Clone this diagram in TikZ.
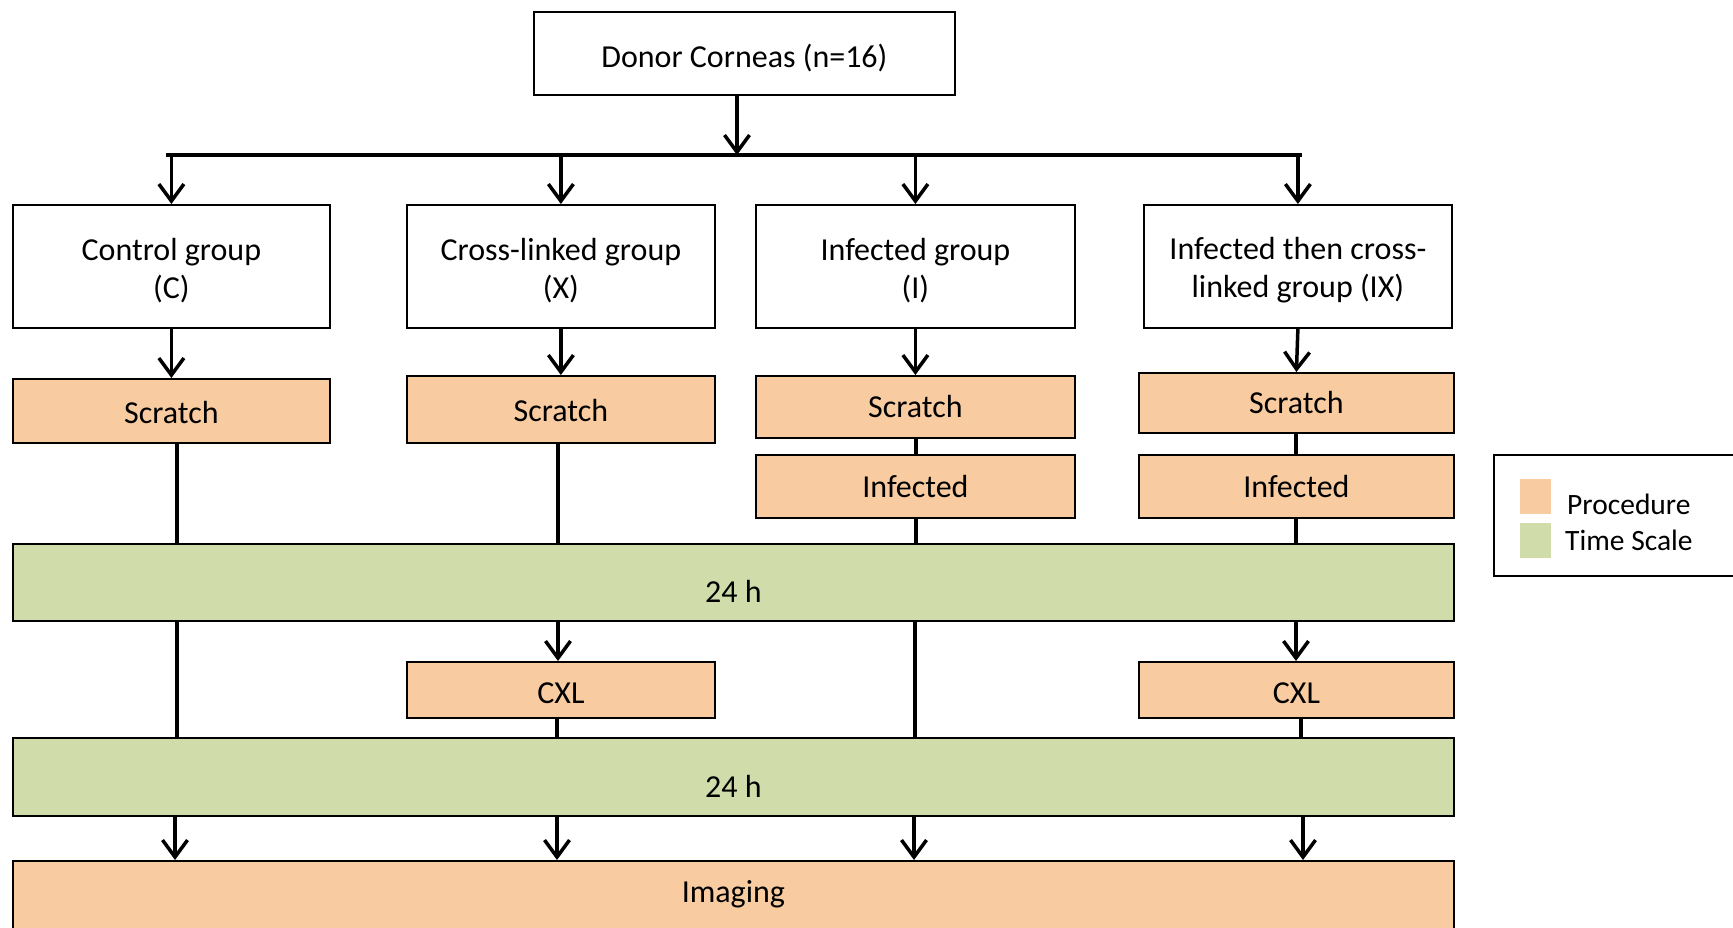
\documentclass[tikz,border=0pt]{standalone}
\usepackage{fontspec}
\setmainfont{Carlito}
\usetikzlibrary{arrows.meta}
\definecolor{proc}{HTML}{F8CBA0}
\definecolor{tscale}{HTML}{D0DDAB}
\begin{document}
\begin{tikzpicture}[x=1pt,y=-1pt,
  font=\fontsize{32}{38}\selectfont,
  box/.style={draw=black, line width=1.8pt, anchor=north west, inner sep=0pt, align=center, fill=white},
  pbox/.style={box, fill=proc},
  tbox/.style={box, fill=tscale},
  lbl/.style={inner sep=0pt},
  tl/.style 2 args={label={[inner sep=0pt, align=center, yshift=#1]center:#2}},
  conn/.style={line width=3.5pt},
  arr/.style={line width=3.5pt, -{Straight Barb[length=17pt,width=25pt,line width=3.5pt]}}
]
\useasboundingbox (0,0) rectangle (1733,927);
\clip (0,0) rectangle (1733,927);

% top
\node[box, minimum width=421pt, minimum height=83pt, tl={-5pt}{Donor Corneas (n=16)}] (top) at (533,11) {};

% groups
\node[box, minimum width=317pt, minimum height=123pt, tl={-4pt}{Control group\\(C)}] (grpC) at (12,204) {};
\node[box, minimum width=308pt, minimum height=123pt, tl={-4pt}{Cross-linked group\\(X)}] (grpX) at (406,204) {};
\node[box, minimum width=319pt, minimum height=123pt, tl={-4pt}{Infected group\\(I)}] (grpI) at (755,204) {};
\node[box, minimum width=308pt, minimum height=123pt, tl={-4pt}{Infected then cross-\\linked group (IX)}] (grpIX) at (1143,204) {};

% scratch
\node[pbox, minimum width=317pt, minimum height=64pt, tl={-2pt}{Scratch}] (scrC) at (12,378) {};
\node[pbox, minimum width=308pt, minimum height=67pt, tl={-1pt}{Scratch}] (scrX) at (406,375) {};
\node[pbox, minimum width=319pt, minimum height=62pt, tl={0pt}{Scratch}] (scrI) at (755,375) {};
\node[pbox, minimum width=315pt, minimum height=60pt, tl={0pt}{Scratch}] (scrIX) at (1138,372) {};

% infected
\node[pbox, minimum width=319pt, minimum height=63pt, tl={0pt}{Infected}] (infI) at (755,454) {};
\node[pbox, minimum width=315pt, minimum height=63pt, tl={0pt}{Infected}] (infIX) at (1138,454) {};

% bars
\node[tbox, minimum width=1441pt, minimum height=77pt, tl={-9pt}{24 h}] (bar1) at (12,543) {};
\node[pbox, minimum width=308pt, minimum height=56pt, tl={-3pt}{CXL}] (cxlX) at (406,661) {};
\node[pbox, minimum width=315pt, minimum height=56pt, tl={-3pt}{CXL}] (cxlIX) at (1138,661) {};
\node[tbox, minimum width=1441pt, minimum height=78pt, tl={-9pt}{24 h}] (bar2) at (12,737) {};
\node[pbox, minimum width=1441pt, minimum height=100pt] (img) at (12,860) {};
\node[lbl] (imgt) at ([yshift=-34pt]img.north) {Imaging};

% legend
\node[box, minimum width=260pt, minimum height=121pt] (leg) at (1493,454) {};
\node[fill=proc, draw=none, minimum width=31pt, minimum height=35pt, inner sep=0pt, anchor=north west] (swP) at (1520,479) {};
\node[fill=tscale, draw=none, minimum width=31pt, minimum height=35pt, inner sep=0pt, anchor=north west] (swT) at (1520,523) {};
\node[anchor=west, inner sep=0pt, font=\fontsize{29.5}{36}\selectfont] (lP) at (1567,504) {Procedure};
\node[anchor=west, inner sep=0pt, font=\fontsize{29.5}{36}\selectfont] (lT) at (1565,540) {Time Scale};

% column coordinates
\coordinate (split) at (737,155);
\coordinate (hl) at (166,155);
\coordinate (hr) at (1302,155);
\coordinate (cC) at (177,0);
\coordinate (cCi) at (175,0);
\coordinate (cX) at (558,0);
\coordinate (cXb) at (557,0);
\coordinate (cI) at (916,0);
\coordinate (cIb) at (915,0);
\coordinate (cIi) at (914,0);
\coordinate (cIX) at (1296,0);
\coordinate (cIXb) at (1301,0);
\coordinate (cIXi) at (1303,0);

% top connectors
\draw[arr] (top.south -| split) -- (split);
\draw[conn] (hl) -- (hr);
\draw[arr] (grpC.north |- split) -- (grpC.north);
\draw[arr] (grpX.north |- split) -- (grpX.north);
\draw[arr] (grpI.north |- split) -- (grpI.north);
\draw[arr] (grpIX.north |- split) -- (grpIX.north);

% group to scratch
\draw[arr] (grpC.south) -- (scrC.north);
\draw[arr] (grpX.south) -- (scrX.north);
\draw[arr] (grpI.south) -- (scrI.north);
\draw[arr] (grpIX.south) -- (scrIX.north);

% control column
\draw[conn] (scrC.south -| cC) -- (bar1.north -| cC);
\draw[conn] (bar1.south -| cC) -- (bar2.north -| cC);
\draw[arr] (bar2.south -| cCi) -- (img.north -| cCi);

% cross-linked column
\draw[conn] (scrX.south -| cX) -- (bar1.north -| cX);
\draw[arr] (bar1.south -| cX) -- (cxlX.north -| cX);
\draw[conn] (cxlX.south -| cXb) -- (bar2.north -| cXb);
\draw[arr] (bar2.south -| cXb) -- (img.north -| cXb);

% infected column
\draw[conn] (scrI.south -| cI) -- (infI.north -| cI);
\draw[conn] (infI.south -| cI) -- (bar1.north -| cI);
\draw[conn] (bar1.south -| cIb) -- (bar2.north -| cIb);
\draw[arr] (bar2.south -| cIi) -- (img.north -| cIi);

% infected then cross-linked column
\draw[conn] (scrIX.south -| cIX) -- (infIX.north -| cIX);
\draw[conn] (infIX.south -| cIX) -- (bar1.north -| cIX);
\draw[arr] (bar1.south -| cIX) -- (cxlIX.north -| cIX);
\draw[conn] (cxlIX.south -| cIXb) -- (bar2.north -| cIXb);
\draw[arr] (bar2.south -| cIXi) -- (img.north -| cIXi);
\end{tikzpicture}
\end{document}
